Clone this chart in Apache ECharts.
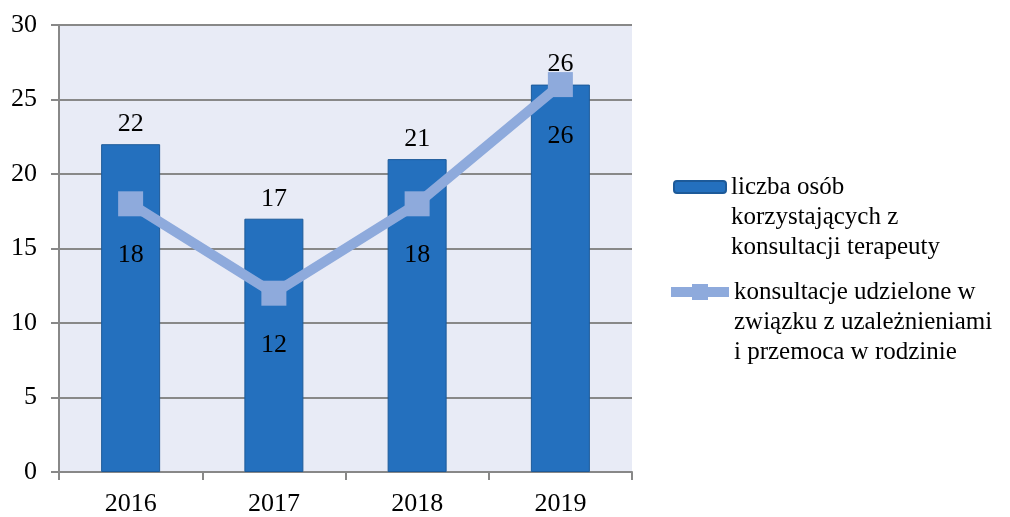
<!DOCTYPE html>
<html lang="pl">
<head>
    <meta charset="UTF-8">
    <title>Konsultacje</title>
    <script src="https://cdn.jsdelivr.net/npm/echarts@6/dist/echarts.min.js"></script>
</head>
<body style="margin:0;background:#fff;">
<div id="main" style="width:1010px;height:517px;"></div>
<script type="text/javascript">
    var years = ['2016', '2017', '2018', '2019'];
    var osoby = [22, 17, 21, 26];
    var konsultacje = [18, 12, 18, 26];
    var nameBar = 'liczba osób\nkorzystających z\nkonsultacji terapeuty';
    var nameLine = 'konsultacje udzielone w\nzwiązku z uzależnieniami\ni przemoca w rodzinie';

    var font = 'Liberation Serif';
    var myChart = echarts.init(document.getElementById('main'));

    // dwie puste linie na początku, żeby ikona stała przy pierwszej linii tekstu
    var legendText = {fontFamily: font, fontSize: 25, color: '#000', lineHeight: 30};
    function pushDown(name) { return '\n\n' + name; }

    var option = {
        animation: false,
        grid: {left: 59, right: 378, top: 25, bottom: 42, show: true,
            backgroundColor: '#E8EBF6', borderWidth: 0},
        legend: [
            {left: 668, top: 107, itemWidth: 52, itemHeight: 12, itemGap: 0,
                data: [{name: nameBar}], textStyle: legendText, formatter: pushDown},
            {left: 661, top: 212, itemWidth: 58, itemHeight: 20, itemGap: 0,
                lineStyle: {width: 10},
                data: [{name: nameLine}], textStyle: legendText, formatter: pushDown}
        ],
        xAxis: {
            type: 'category',
            data: years,
            axisLine: {lineStyle: {color: '#888', width: 2}},
            axisTick: {show: true, length: 8, lineStyle: {color: '#888', width: 2}},
            axisLabel: {fontFamily: font, fontSize: 26, color: '#000', margin: 19}
        },
        yAxis: {
            type: 'value', min: 0, max: 30, interval: 5,
            axisLine: {show: true, lineStyle: {color: '#888', width: 2}},
            axisTick: {show: true, length: 8, lineStyle: {color: '#888', width: 2}},
            splitLine: {lineStyle: {color: '#888', width: 2}},
            axisLabel: {fontFamily: font, fontSize: 26, color: '#000', margin: 22}
        },
        series: [
            {
                name: nameBar,
                type: 'bar',
                data: osoby,
                barWidth: 59,
                itemStyle: {color: '#2470BE', borderColor: '#1D5A99', borderWidth: 1},
                label: {show: true, position: 'top', distance: 7,
                    fontFamily: font, fontSize: 26, color: '#000'}
            },
            {
                name: nameLine,
                type: 'line',
                data: konsultacje,
                symbol: 'rect',
                symbolSize: 25,
                lineStyle: {color: '#8EAADC', width: 10},
                itemStyle: {color: '#8EAADC'},
                label: {show: true, position: 'bottom', distance: 26,
                    fontFamily: font, fontSize: 26, color: '#000'}
            }
        ]
    };
    myChart.setOption(option);
</script>
</body>
</html>
